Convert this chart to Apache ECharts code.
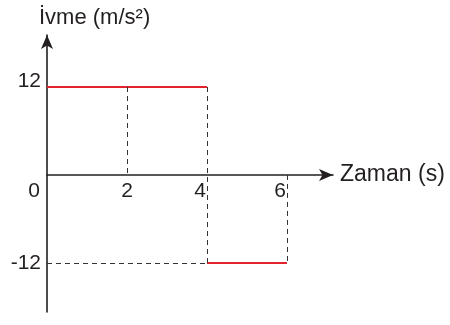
<!DOCTYPE html>
<html>
<head>
<meta charset="utf-8">
<script src="https://cdn.jsdelivr.net/npm/echarts@6/dist/echarts.min.js"></script>
<style>
  html, body { margin: 0; padding: 0; background: #fff; }
  #chart { width: 450px; height: 325px; }
</style>
</head>
<body>
<div id="chart"></div>
<script>
// time ticks (s) and acceleration ticks (m/s²)
const timeTicks = [0, 2, 4, 6];
const accelTicks = [-12, 12];
// acceleration segments: [time, value]
const positivePart = [[0, 12], [4, 12]];
const negativePart = [[4, -12], [6, -12]];
// dashed guide segments
const guides = [
  [[2, 12], [2, 0]],
  [[4, 12], [4, -12]],
  [[6, 0], [6, -12]],
  [[0, -12], [4, -12]]
];

const chart = echarts.init(document.getElementById('chart'));
const font = '"Liberation Sans", Arial, sans-serif';
const textColor = '#231f20';

const option = {
  animation: false,
  title: {
    text: 'İvme (m/s²)',
    left: 34,
    top: 2,
    textStyle: { fontFamily: font, fontSize: 22, fontWeight: 'normal', color: textColor }
  },
  grid: { left: 47, right: 117, top: 35, bottom: 13, outerBoundsMode: 'none', containLabel: false },
  xAxis: {
    type: 'value',
    min: 0,
    max: 7.15,
    offset: -137,
    name: 'Zaman (s)',
    nameLocation: 'end',
    nameGap: 7,
    nameTextStyle: { fontFamily: font, fontSize: 23, color: textColor },
    axisLine: {
      onZero: false,
      symbol: ['none', 'arrow'],
      symbolSize: [9, 14],
      lineStyle: { color: '#231f20', width: 1.6 }
    },
    axisTick: { show: false },
    splitLine: { show: false },
    axisLabel: {
      customValues: timeTicks,
      margin: 6,
      color: textColor,
      fontFamily: font,
      fontSize: 21,
      formatter: v => v === 0 ? '{z|0}' : v === 2 ? '{c|2}' : '{s|' + v + '}',
      rich: {
        z: { fontFamily: font, fontSize: 21, color: textColor, padding: [0, 26, 0, 0] },
        c: { fontFamily: font, fontSize: 21, color: textColor },
        s: { fontFamily: font, fontSize: 21, color: textColor, padding: [0, 14, 0, 0] }
      }
    }
  },
  yAxis: {
    type: 'value',
    min: -18.7,
    max: 19.1,
    axisLine: {
      symbol: ['none', 'arrow'],
      symbolSize: [9, 14],
      lineStyle: { color: '#231f20', width: 1.6 }
    },
    axisTick: { show: false },
    splitLine: { show: false },
    axisLabel: {
      customValues: accelTicks,
      margin: 6,
      color: textColor,
      fontFamily: font,
      fontSize: 21,
      formatter: v => v > 0 ? '{u|' + v + '}' : '{d|' + v + '}',
      rich: {
        u: { fontFamily: font, fontSize: 21, color: textColor, padding: [0, 0, 12, 0] },
        d: { fontFamily: font, fontSize: 21, color: textColor }
      }
    }
  },
  series: [
    {
      type: 'line',
      data: positivePart,
      symbol: 'none',
      lineStyle: { color: '#e3232b', width: 2 },
      markLine: {
        silent: true,
        symbol: 'none',
        label: { show: false },
        lineStyle: { color: '#333', width: 1, type: [5, 4] },
        data: guides.map(g => [{ coord: g[0] }, { coord: g[1] }])
      },
      z: 3
    },
    {
      type: 'line',
      data: negativePart,
      symbol: 'none',
      lineStyle: { color: '#e3232b', width: 2 },
      z: 3
    }
  ]
};

chart.setOption(option);
</script>
</body>
</html>
